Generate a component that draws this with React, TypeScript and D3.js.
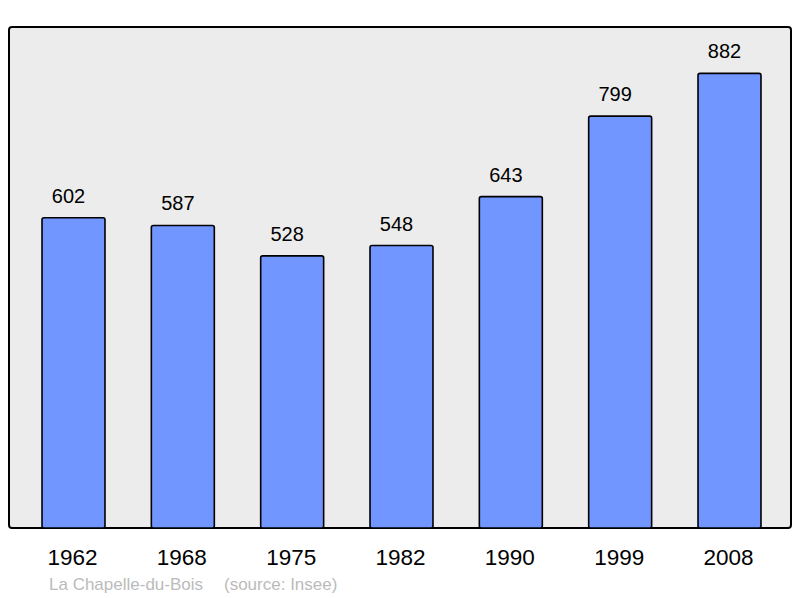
import React from 'react';
import * as d3 from 'd3';

const years = ['1962', '1968', '1975', '1982', '1990', '1999', '2008'];
const population = [602, 587, 528, 548, 643, 799, 882];
const townName = 'La Chapelle-du-Bois';
const sourceNote = '(source: Insee)';

const width = 800;
const height = 598;
const panel = { left: 9, top: 27, right: 791, bottom: 528 };

const App = () => {
  const x = d3
    .scaleBand()
    .domain(years)
    .range([12, 791])
    .paddingInner(0.424)
    .paddingOuter(0.2745);

  const y = d3
    .scaleLinear()
    .domain([0, 972])
    .range([panel.bottom, panel.top]);

  const rows = years.map((year, i) => ({ year, value: population[i] }));

  return (
    <svg
      width={width}
      height={height}
      style={{ position: 'absolute', left: 0, top: 0, fontFamily: '"Liberation Sans", Arial, sans-serif' }}
    >
      <rect x={0} y={0} width={width} height={height} fill="#ffffff" />
      <rect
        x={panel.left}
        y={panel.top}
        width={panel.right - panel.left}
        height={panel.bottom - panel.top}
        rx={3}
        fill="#ececec"
        stroke="#000000"
        strokeWidth={2}
      />
      {rows.map((d) => (
        <g key={d.year}>
          <rect
            x={x(d.year)}
            y={y(d.value)}
            width={x.bandwidth()}
            height={panel.bottom - y(d.value)}
            rx={2}
            fill="#7196ff"
            stroke="#000000"
            strokeWidth={1.6}
          />
          {/* value labels sit a little left of the bar centre in the original */}
          <text
            x={(x(d.year) ?? 0) + x.bandwidth() / 2 - 5}
            y={y(d.value) - 15}
            textAnchor="middle"
            fontSize={20}
            fill="#000000"
          >
            {d.value}
          </text>
          <text
            x={(x(d.year) ?? 0) + x.bandwidth() / 2 - 1}
            y={565}
            textAnchor="middle"
            fontSize={22.5}
            fill="#000000"
          >
            {d.year}
          </text>
        </g>
      ))}
      <text x={49} y={590} fontSize={17} fill="#bbbbbb">
        {townName}
      </text>
      <text x={224} y={590} fontSize={17} fill="#bbbbbb">
        {sourceNote}
      </text>
    </svg>
  );
};

export default App;
